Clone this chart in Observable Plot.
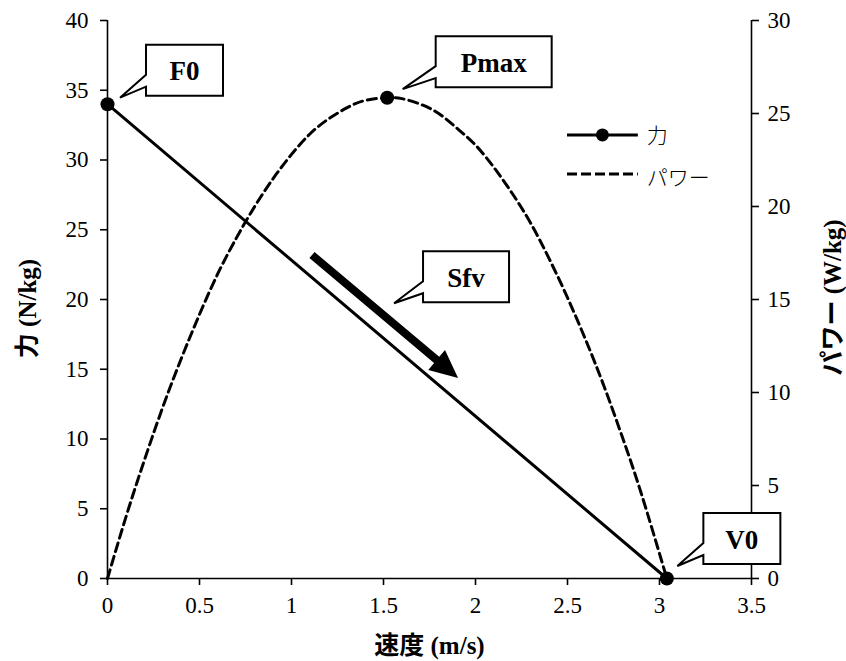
<!DOCTYPE html>
<html><head><meta charset="utf-8">
<script src="https://cdn.jsdelivr.net/npm/d3@7"></script>
<script src="https://cdn.jsdelivr.net/npm/@observablehq/plot@0.6"></script>
<style>
body{margin:0;background:#fff}
svg text{font-family:"Liberation Serif","Times New Roman","Noto Sans CJK JP",serif;}
svg text.jp{font-family:"Noto Sans CJK JP",sans-serif;}
</style>
</head><body><div id="chart"></div>
<script>
// ---- data ----
const speedTicks = [0, 0.5, 1, 1.5, 2, 2.5, 3, 3.5];
const forceTicks = [0, 5, 10, 15, 20, 25, 30, 35, 40];
const powerTicks = [0, 5, 10, 15, 20, 25, 30];
const forceSpeed = [0, 3.04];
const forceValues = [34, 0];
const powerSpeed = [0, 0.1, 0.2, 0.3, 0.4, 0.5, 0.6, 0.7, 0.8, 0.9, 1.0, 1.1, 1.2, 1.3, 1.4, 1.52, 1.6, 1.7, 1.8, 1.9, 2.0, 2.1, 2.2, 2.3, 2.4, 2.5, 2.6, 2.7, 2.8, 2.9, 3.04];
const powerValues = [0, 3.3, 6.35, 9.2, 11.8, 14.2, 16.4, 18.3, 20.0, 21.5, 22.8, 23.9, 24.7, 25.3, 25.7, 25.85, 25.8, 25.5, 25.0, 24.2, 23.3, 22.1, 20.7, 19.1, 17.2, 15.1, 12.8, 10.3, 7.55, 4.6, 0];
const pmaxSpeed = [1.52];
const pmaxValue = [25.85];
const calloutLabels = ["F0", "Pmax", "Sfv", "V0"];
const calloutSpeed = [0, 1.52, 1.56, 3.04];
const calloutForce = [34, 34.47, 19.7, 0];
const legendLabels = ["力", "パワー"];
const sfvArrowSpeed = [1.114, 1.908];
const sfvArrowForce = [23.15, 14.34];

// ---- build ----
const ratio = 40 / 30; // power (right axis) -> left scale
const forceData = forceSpeed.map((v, i) => ({v, f: forceValues[i]}));
const powerData = powerSpeed.map((v, i) => ({v, p: powerValues[i] * ratio}));
const pmaxData = pmaxSpeed.map((v, i) => ({v, p: pmaxValue[i] * ratio}));

const calloutLayout = [
  {dx: 39, dy: -59, w: 77, tx: 13, ty: -6},
  {dx: 49, dy: -61, w: 116, tx: 16, ty: -8},
  {dx: 29, dy: -52, w: 86, tx: 0, ty: 0},
  {dx: 37, dy: -65, w: 77, tx: 11, ty: -12}
];

function callouts(index, scales) {
  const g = d3.create("svg:g");
  calloutLabels.forEach((lab, i) => {
    const L = calloutLayout[i];
    const px = scales.x(calloutSpeed[i]), py = scales.y(calloutForce[i]);
    const left = px + L.dx, top = py + L.dy, h = 51, right = left + L.w, bottom = top + h;
    const tipX = px + L.tx, tipY = py + L.ty;
    g.append("path")
      .attr("d", `M${left},${top}H${right}V${bottom}H${left}V${top + 42}L${tipX},${tipY}L${left},${top + 30}Z`)
      .attr("fill", "#fff").attr("stroke", "#000").attr("stroke-width", 2).attr("stroke-linejoin", "miter");
    g.append("text").text(lab)
      .attr("x", left + L.w / 2).attr("y", top + h / 2 + 10)
      .attr("text-anchor", "middle").attr("font-weight", "bold")
      .attr("font-size", 27).attr("fill", "#000");
  });
  return g.node();
}

function sfvArrow(index, scales) {
  const x1 = scales.x(sfvArrowSpeed[0]), y1 = scales.y(sfvArrowForce[0]);
  const x2 = scales.x(sfvArrowSpeed[1]), y2 = scales.y(sfvArrowForce[1]);
  const len = Math.hypot(x2 - x1, y2 - y1);
  const ux = (x2 - x1) / len, uy = (y2 - y1) / len, nx = -uy, ny = ux;
  const sw = 4, head = 28, hw = 13;
  const bx = x2 - head * ux, by = y2 - head * uy;
  const pts = [
    [x1 + nx * sw, y1 + ny * sw], [bx + nx * sw, by + ny * sw], [bx + nx * hw, by + ny * hw],
    [x2, y2], [bx - nx * hw, by - ny * hw], [bx - nx * sw, by - ny * sw], [x1 - nx * sw, y1 - ny * sw]
  ];
  const g = d3.create("svg:g");
  g.append("path").attr("d", "M" + pts.map(p => p.join(",")).join("L") + "Z").attr("fill", "#000");
  return g.node();
}

function legend(index, scales) {
  const g = d3.create("svg:g");
  const x0 = scales.x(2.50), x1 = scales.x(2.885);
  const ys = [scales.y(31.76), scales.y(28.96)];
  g.append("line").attr("x1", x0).attr("x2", x1).attr("y1", ys[0]).attr("y2", ys[0])
    .attr("stroke", "#000").attr("stroke-width", 3);
  g.append("circle").attr("cx", (x0 + x1) / 2).attr("cy", ys[0]).attr("r", 6.5).attr("fill", "#000");
  g.append("line").attr("x1", x0).attr("x2", x1).attr("y1", ys[1]).attr("y2", ys[1])
    .attr("stroke", "#000").attr("stroke-width", 3).attr("stroke-dasharray", "10,4");
  legendLabels.forEach((t, i) => {
    g.append("text").attr("class", "jp").text(t).attr("x", x1 + 9).attr("y", ys[i] + 8 + 3 * i)
      .attr("text-anchor", "start")
      .attr("font-size", 21).attr("font-weight", 300).attr("fill", "#000");
  });
  return g.node();
}

const chart = Plot.plot({
  width: 846,
  height: 661,
  marginTop: 20,
  marginBottom: 83,
  marginLeft: 107,
  marginRight: 95,
  style: {fontSize: "23px", color: "#000", background: "#fff"},
  x: {domain: [0, 3.5]},
  y: {domain: [0, 40]},
  marks: [
    Plot.ruleX([0, 3.5], {stroke: "#000", strokeWidth: 1.6}),
    Plot.ruleY([0], {stroke: "#000", strokeWidth: 1.6}),
    Plot.line(powerData, {x: "v", y: "p", curve: "natural", stroke: "#000", strokeWidth: 3, strokeDasharray: "9,5"}),
    Plot.line(forceData, {x: "v", y: "f", stroke: "#000", strokeWidth: 3}),
    Plot.dot(forceData, {x: "v", y: "f", r: 7, fill: "#000", stroke: null}),
    Plot.dot(pmaxData, {x: "v", y: "p", r: 7, fill: "#000", stroke: null}),
    sfvArrow,
    legend,
    Plot.axisX(speedTicks, {tickSize: 7, tickPadding: 11, label: null, fontSize: 23, tickFormat: d => String(d), strokeWidth: 1.6}),
    Plot.axisY(forceTicks, {anchor: "left", tickSize: 7, tickPadding: 12, label: null, fontSize: 23, strokeWidth: 1.6}),
    Plot.axisY(powerTicks.map(d => d * ratio), {anchor: "right", tickSize: 7, tickPadding: 9, label: null, fontSize: 23, tickFormat: d => String(Math.round(d / ratio)), strokeWidth: 1.6}),
    Plot.text(["速度 (m/s)"], {frameAnchor: "bottom", lineAnchor: "middle", textAnchor: "middle", dy: 67, fontWeight: "bold", fontSize: 25, fill: "#000"}),
    Plot.text(["力 (N/kg)"], {frameAnchor: "left", textAnchor: "middle", lineAnchor: "middle", dx: -80, dy: 9, rotate: -90, fontWeight: "bold", fontSize: 25, fill: "#000"}),
    Plot.text(["パワー (W/kg)"], {frameAnchor: "right", textAnchor: "middle", lineAnchor: "middle", dx: 81, dy: -2, rotate: -90, fontWeight: "bold", fontSize: 25, fill: "#000"}),
    callouts
  ]
});
document.getElementById("chart").append(chart);
</script>
</body></html>
